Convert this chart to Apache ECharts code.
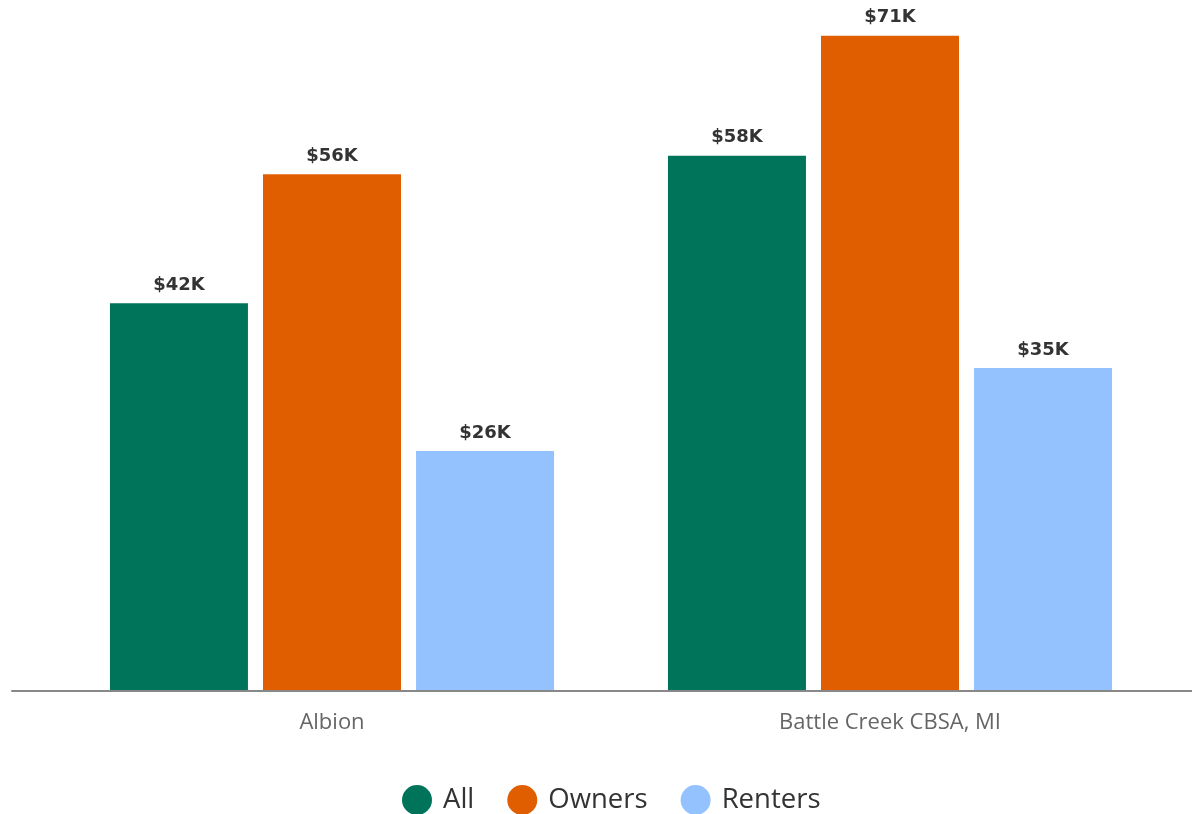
<!DOCTYPE html>
<html>
<head>
<meta charset="utf-8">
<style>
  html, body { margin: 0; padding: 0; background: #fff; }
  #chart { width: 1192px; height: 814px; }
</style>
<script src="https://cdn.jsdelivr.net/npm/echarts@6/dist/echarts.min.js"></script>
</head>
<body>
<div id="chart"></div>
<script>
// Median household income by tenure
const categories = ['Albion', 'Battle Creek CBSA, MI'];
const seriesNames = ['All', 'Owners', 'Renters'];
const allValues = [42000, 58000];
const ownerValues = [56000, 71000];
const renterValues = [26000, 35000];
const colors = ['#00745A', '#E05E00', '#93C2FF'];

const chart = echarts.init(document.getElementById('chart'));

function fmtK(v) { return '$' + Math.round(v / 1000) + 'K'; }

const valueSets = [allValues, ownerValues, renterValues];
const series = seriesNames.map((name, i) => ({
  name: name,
  type: 'bar',
  xAxisIndex: 0,
  yAxisIndex: 0,
  data: valueSets[i],
  barWidth: 138,
  barGap: '10.9%',
  itemStyle: { color: colors[i] },
  label: {
    show: true,
    position: 'top',
    distance: 9,
    formatter: p => fmtK(p.value),
    fontFamily: 'DejaVu Sans, sans-serif',
    fontWeight: 'bold',
    fontSize: 18,
    color: '#333333'
  }
}));

chart.setOption({
  animation: false,
  color: colors,
  grid: [
    { left: 53, right: 23, top: 8, bottom: 123, containLabel: false },
    { left: 12, right: 0, top: 8, bottom: 123, containLabel: false }
  ],
  xAxis: [
    {
      type: 'category',
      gridIndex: 0,
      data: categories,
      axisLine: { show: false },
      axisTick: { show: false },
      axisLabel: {
        margin: 21,
        fontFamily: 'Open Sans, sans-serif',
        fontSize: 22,
        color: '#666666'
      }
    },
    {
      type: 'category',
      gridIndex: 1,
      data: [''],
      axisLine: { show: true, lineStyle: { color: '#888888', width: 2 } },
      axisTick: { show: false },
      axisLabel: { show: false },
      z: 5
    }
  ],
  yAxis: [
    { type: 'value', gridIndex: 0, min: 0, max: 74000, show: false, splitLine: { show: false } },
    { type: 'value', gridIndex: 1, min: 0, max: 74000, show: false, splitLine: { show: false } }
  ],
  legend: {
    data: seriesNames,
    bottom: -1,
    left: 402,
    padding: 0,
    icon: 'circle',
    itemWidth: 30,
    itemHeight: 30,
    itemGap: 33,
    textStyle: {
      fontFamily: 'Open Sans, sans-serif',
      fontSize: 27.5,
      color: '#333333',
      padding: [0, 0, 0, 6]
    }
  },
  series: series
});
</script>
</body>
</html>
